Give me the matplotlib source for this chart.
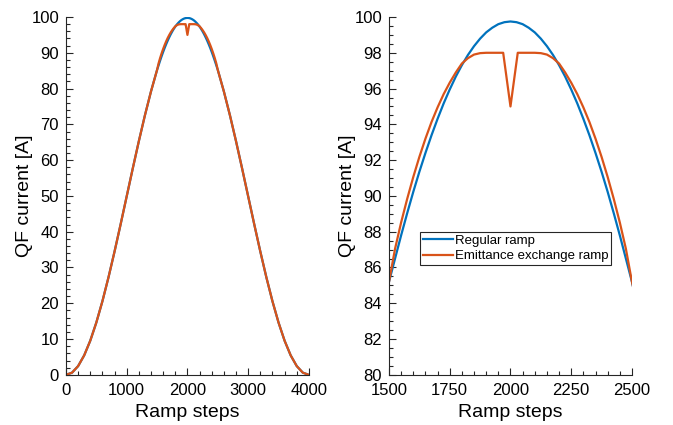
import numpy as np
import matplotlib
matplotlib.use('Agg')
import matplotlib.pyplot as plt
from matplotlib.ticker import MultipleLocator

plt.rcParams['font.family'] = ['Liberation Sans', 'DejaVu Sans']

# ramp steps (coarse outside the top, finer near the top)
steps_regular = list(range(0, 1500, 100)) + list(range(1500, 2525, 25)) + list(range(2600, 4100, 100))
steps_emit = (list(range(0, 1500, 100)) + list(range(1500, 1975, 25)) + [1970, 2000, 2030]
              + list(range(2050, 2525, 25)) + list(range(2600, 4100, 100)))

# QF current [A]
qf_regular = [0.00, 0.61, 2.44, 5.44, 9.53, 14.61, 20.56, 27.23, 34.46, 42.07, 49.88, 57.68, 65.29, 72.52, 79.19,
              85.20, 86.50, 87.80, 89.04, 90.23, 91.35, 92.40, 93.39, 94.31, 95.17, 95.95, 96.67, 97.31, 97.88,
              98.37, 98.79, 99.14, 99.40, 99.60, 99.71, 99.75,
              99.71, 99.60, 99.40, 99.14, 98.79, 98.37, 97.88, 97.31, 96.67, 95.95, 95.17, 94.31, 93.39, 92.40,
              91.35, 90.23, 89.04, 87.80, 86.50, 85.20,
              79.19, 72.52, 65.29, 57.68, 49.88, 42.07, 34.46, 27.23, 20.56, 14.61, 9.53, 5.44, 2.44, 0.61, 0.00]
qf_emit = [0.00, 0.61, 2.44, 5.44, 9.53, 14.61, 20.56, 27.23, 34.46, 42.07, 49.88, 57.68, 65.29, 72.52, 79.19,
           85.20, 87.05, 88.52, 89.84, 91.06, 92.18, 93.20, 94.13, 94.95, 95.69, 96.33, 96.90, 97.40, 97.70,
           97.90, 97.98, 98.00, 98.00, 98.00,
           98.00, 95.00, 98.00,
           98.00, 98.00, 98.00, 97.98, 97.90, 97.70, 97.40, 96.90, 96.33, 95.69, 94.95, 94.13, 93.20, 92.18,
           91.06, 89.84, 88.52, 87.05, 85.20,
           79.19, 72.52, 65.29, 57.68, 49.88, 42.07, 34.46, 27.23, 20.56, 14.61, 9.53, 5.44, 2.44, 0.61, 0.00]

labels = ['Regular ramp', 'Emittance exchange ramp']
blue = '#0072BD'
orange = '#D95319'
dark = '#262626'

fig = plt.figure(figsize=(6.73, 4.25), dpi=100)
ax1 = fig.add_axes([0.098, 0.118, 0.361, 0.842])
ax2 = fig.add_axes([0.578, 0.118, 0.361, 0.842])


def style(ax, xlim, ylim, xmaj, xmin, ymaj, ymin):
    ax.set_xlim(xlim)
    ax.set_ylim(ylim)
    ax.xaxis.set_major_locator(MultipleLocator(xmaj))
    ax.xaxis.set_minor_locator(MultipleLocator(xmin))
    ax.yaxis.set_major_locator(MultipleLocator(ymaj))
    ax.yaxis.set_minor_locator(MultipleLocator(ymin))
    for s in ['top', 'right']:
        ax.spines[s].set_visible(False)
    for s in ['left', 'bottom']:
        ax.spines[s].set_color(dark)
        ax.spines[s].set_linewidth(0.8)
    ax.tick_params(which='both', direction='in', colors=dark, labelcolor='black', width=0.8)
    ax.tick_params(which='major', length=5, labelsize=12)
    ax.tick_params(axis='x', which='major', pad=6)
    ax.tick_params(axis='y', which='major', pad=5)
    ax.tick_params(which='minor', length=3)
    ax.set_xlabel('Ramp steps', fontsize=14, labelpad=4)
    ax.set_ylabel('QF current [A]', fontsize=14, labelpad=-1)


for ax in (ax1, ax2):
    ax.plot(steps_regular, qf_regular, color=blue, lw=1.6, label=labels[0])
    ax.plot(steps_emit, qf_emit, color=orange, lw=1.6, label=labels[1])

style(ax1, (0, 4000), (0, 100), 1000, 200, 10, 2)
style(ax2, (1500, 2500), (80, 100), 250, 50, 2, 0.5)

leg = ax2.legend(loc='lower left', bbox_to_anchor=(0.128, 0.307), borderaxespad=0,
                 fontsize=9.5, handlelength=2.3, handletextpad=0.15, labelspacing=0.25,
                 borderpad=0.2, fancybox=False, framealpha=1)
leg.get_frame().set_edgecolor(dark)
leg.get_frame().set_linewidth(0.8)

fig.savefig('out.png', dpi=100)
